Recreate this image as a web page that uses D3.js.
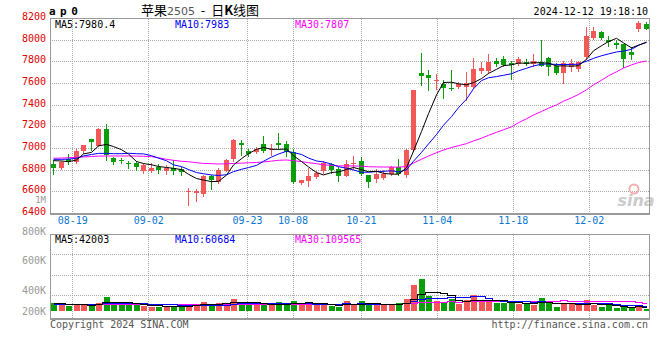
<!DOCTYPE html>
<html><head><meta charset="utf-8">
<script src="https://cdn.jsdelivr.net/npm/d3@7"></script>
<style>body{margin:0;background:#fff}svg{display:block}</style>
</head><body><svg id="c" width="660" height="360"></svg>
<script>
// ---------- DATA ----------
const openP = [6857,6823,6900,6878,6979,7087,7025,7179,6915,6891,6866,6869,6796,6796,6833,6787,6823,6811,6600,6594,6588,6750,6689,6796,6900,7053,6981,6965,7041,6990,7047,7041,6970,6686,6701,6735,6787,6854,6809,6747,6860,6885,6756,6720,6729,6765,6827,6756,6981,7699,7675,7620,7592,7562,7567,7567,7567,7711,7711,7812,7828,7788,7782,7803,7782,7803,7834,7760,7696,7751,7730,7849,8027,8079,8002,7972,7966,7889,8103,8150];
const highP = [6894,6885,6949,6992,7035,7090,7185,7225,6918,6909,6888,6885,6864,6869,6854,6848,6894,6833,6634,6625,6756,6756,6818,6900,7087,7078,6996,7011,7114,7041,7139,7068,6992,6712,6818,6790,6888,6869,6833,6894,6931,6924,6760,6809,6800,6835,6903,6996,7540,7879,7721,7690,7629,7727,7610,7705,7837,7797,7868,7837,7852,7812,7840,7828,7868,8003,7840,7790,7812,7828,7810,8118,8125,8085,8036,8000,7966,7935,8180,8165];
const lowP = [6763,6815,6854,6870,6956,6986,7020,6894,6854,6864,6818,6802,6775,6781,6772,6766,6766,6756,6481,6511,6557,6628,6680,6790,6888,6940,6931,6958,6970,6940,6996,6931,6680,6673,6655,6730,6772,6772,6704,6745,6809,6760,6649,6695,6720,6760,6760,6741,6975,7583,7537,7553,7470,7537,7560,7445,7560,7696,7700,7760,7760,7644,7770,7770,7760,7760,7675,7690,7604,7714,7720,7828,8010,8010,7950,7930,7751,7828,8082,8100];
const closeP = [6818,6878,6869,6979,7032,7062,7179,6940,6878,6885,6862,6833,6848,6823,6802,6818,6796,6787,6605,6609,6750,6717,6802,6894,7078,7038,6955,6995,6981,6998,7032,6970,6689,6710,6747,6772,6864,6796,6741,6857,6866,6765,6695,6765,6765,6827,6765,6986,7537,7668,7650,7630,7558,7556,7592,7604,7730,7742,7797,7782,7773,7767,7828,7782,7812,7767,7751,7696,7791,7791,7797,8042,8088,8027,7980,7950,7828,7858,8155,8103];
const ma5 = [6888,6885,6878,6894,6950,6964,7024,7038,7018,6989,6949,6880,6861,6850,6834,6825,6817,6805,6762,6723,6709,6694,6697,6754,6848,6906,6953,6992,7009,6993,6992,6995,6934,6880,6830,6778,6756,6778,6784,6806,6825,6805,6785,6790,6771,6763,6763,6822,6976,7157,7321,7494,7609,7612,7597,7588,7608,7645,7693,7731,7765,7772,7789,7786,7792,7791,7788,7762,7763,7759,7765,7823,7902,7949,7987,8017,7975,7929,7954,7979];
const ma10 = [6900,6900,6902,6910,6931,6945,6955,6955,6952,6952,6956,6952,6950,6934,6911,6887,6849,6833,6806,6778,6767,6756,6751,6758,6786,6808,6824,6844,6882,6921,6949,6974,6963,6945,6912,6885,6876,6856,6832,6818,6801,6781,6781,6787,6789,6794,6784,6803,6883,6964,7042,7129,7215,7294,7377,7455,7551,7627,7653,7664,7676,7690,7717,7740,7762,7778,7780,7776,7775,7776,7778,7806,7832,7856,7873,7891,7899,7915,7952,7983];
const ma30 = [6910,6912,6915,6918,6922,6926,6930,6931,6931,6931,6931,6930,6928,6925,6915,6900,6891,6882,6878,6869,6862,6860,6857,6859,6862,6865,6868,6871,6876,6884,6891,6894,6888,6879,6869,6860,6849,6844,6840,6839,6839,6837,6832,6830,6829,6829,6828,6834,6866,6901,6931,6961,6986,7009,7026,7045,7070,7095,7122,7149,7173,7200,7238,7274,7309,7342,7372,7402,7437,7468,7499,7542,7588,7630,7671,7708,7743,7772,7793,7808];
const volume = [130,99,78,99,99,88,130,213,104,104,104,88,78,62,62,62,78,88,88,88,140,73,125,125,187,135,88,88,88,88,140,125,151,88,120,88,104,78,62,151,104,151,88,88,88,88,120,182,400,494,229,151,125,182,114,166,244,151,151,125,125,125,104,125,88,203,125,62,125,104,88,166,88,62,88,47,62,47,73,36].map(v => v * 1000);
const volMa5 = [115,110,100,100,101,93,99,126,127,128,131,123,96,87,79,70,68,70,76,81,96,95,103,110,130,129,132,125,117,97,98,106,118,118,125,114,110,96,90,97,100,109,111,116,104,101,94,113,176,257,285,291,280,236,160,148,166,171,165,167,159,135,126,121,113,129,129,121,121,124,101,109,114,102,98,90,69,61,63,53].map(v => v * 1000);
const volMa10 = [105,105,104,104,104,103,105,110,112,114,112,111,111,107,103,101,96,83,81,80,83,82,87,93,105,113,114,114,114,114,114,119,122,118,111,106,108,107,104,111,107,110,103,103,100,100,102,112,146,180,193,193,197,206,209,216,229,226,201,164,153,151,149,143,140,144,132,123,121,119,115,119,117,111,111,96,89,88,82,76].map(v => v * 1000);
const volMa30 = [96,95,96,97,96,97,98,97,98,98,99,99,98,99,100,100,99,100,101,100,101,101,102,101,102,103,102,103,103,103,103,104,106,106,107,107,106,101,100,101,101,104,104,105,106,106,108,111,121,135,138,140,140,142,140,141,146,148,150,152,151,151,150,151,150,154,154,154,156,154,154,154,154,153,153,152,150,146,135,119].map(v => v * 1000);
const dateLabels = ["08-19","09-02","09-23","10-08","10-21","11-04","11-18","12-02"];
const dateIndex = [3,13,26,32,41,51,61,71];
const priceTicks = [6400,6600,6800,7000,7200,7400,7600,7800,8000,8200];
const volTickLabels = ["800K","600K","400K","200K"];
const volTickValues = [800000,600000,400000,200000];
const legendPrice = [{t:"MA5:7980.4",c:"#000000"},{t:"MA10:7983",c:"#0000ff"},{t:"MA30:7807",c:"#ff00ff"}];
const legendVol = [{t:"MA5:42003",c:"#000000"},{t:"MA10:60684",c:"#0000ff"},{t:"MA30:109565",c:"#ff00ff"}];

// ---------- LAYOUT ----------
const N = closeP.length;
const L = 50, R = 650;
const pTop = 18.5, pBot = 213.5;
const vTop = 234.5, vBot = 318.5, vBase = 311;
const RED = "#f35858", GREEN = "#0a9f0a";
const MONO = "'DejaVu Sans Mono', monospace";

const svg = d3.select("#c");
const xBand = d3.scaleBand().domain(d3.range(N)).range([L, R]).paddingInner(0.34).paddingOuter(0.17);
const xGrid = d3.scaleLinear().domain([0, N - 1]).range([L, R]);
const cx = i => Math.round(xBand(i)) + 2.5;
const bw = Math.round(xBand.bandwidth());
const yP = d3.scaleLinear().domain([6400, 8200]).range([pBot, pTop]);
const yV = d3.scaleLinear().domain([0, 1200000]).range([vBase, vTop - 0.5]);
const yVGrid = d3.scaleLinear().domain([0, 4]).range([vBot - 2.5, vTop]);
const yVLabel = d3.scaleLinear().domain([200000, 400000, 600000, 800000]).range([311, 290, 260.5, 231]);
const crisp = v => Math.round(v - 0.5) + 0.5;

// clip paths
const defs = svg.append("defs");
defs.append("clipPath").attr("id", "pclip").append("rect").attr("x", L).attr("y", pTop).attr("width", R - L).attr("height", pBot - pTop);
defs.append("clipPath").attr("id", "vclip").append("rect").attr("x", L).attr("y", vTop).attr("width", R - L).attr("height", vBot - vTop);

// ---------- GRID ----------
const grid = svg.append("g").attr("stroke", "#a8a8a8").attr("stroke-dasharray", "1,1").attr("shape-rendering", "crispEdges");
grid.selectAll(".hp").data(priceTicks.filter(t => t > 6400 && t < 8200)).join("line")
  .attr("x1", L).attr("x2", R).attr("y1", d => crisp(yP(d))).attr("y2", d => crisp(yP(d)));
grid.selectAll(".vp").data(dateIndex).join("line")
  .attr("x1", d => crisp(xGrid(d))).attr("x2", d => crisp(xGrid(d))).attr("y1", pTop).attr("y2", pBot);
grid.selectAll(".hv").data([1, 2, 3]).join("line").attr("class", "hv")
  .attr("x1", L).attr("x2", R).attr("y1", d => crisp(yVGrid(d))).attr("y2", d => crisp(yVGrid(d)));
grid.selectAll(".vv").data(dateIndex).join("line").attr("class", "vv")
  .attr("x1", d => crisp(xGrid(d))).attr("x2", d => crisp(xGrid(d))).attr("y1", vTop).attr("y2", vBot);

// ---------- WATERMARK ----------
const wm = svg.append("g");
wm.append("circle").attr("cx", 634).attr("cy", 189).attr("r", 4.5).attr("fill", "none").attr("stroke", "#f4b0b0").attr("stroke-width", 2);
wm.append("text").attr("x", 636).attr("y", 206).attr("text-anchor", "middle")
  .attr("font-family", "'DejaVu Sans', sans-serif").attr("font-size", 16).attr("font-weight", "bold").attr("font-style", "italic")
  .attr("fill", "#cbcbcb").text("sina");

// ---------- CANDLES ----------
const cg = svg.append("g").attr("clip-path", "url(#pclip)").attr("shape-rendering", "crispEdges");
const idx = d3.range(N);
const col = i => closeP[i] >= openP[i] ? RED : GREEN;
cg.selectAll(".wick").data(idx).join("line")
  .attr("x1", i => cx(i)).attr("x2", i => cx(i))
  .attr("y1", i => Math.round(yP(highP[i]))).attr("y2", i => Math.round(yP(lowP[i])) + 1)
  .attr("stroke", col).attr("stroke-width", 1);
cg.selectAll(".body").data(idx).join("rect")
  .attr("x", i => Math.round(xBand(i)))
  .attr("y", i => Math.round(yP(Math.max(openP[i], closeP[i]))))
  .attr("width", bw)
  .attr("height", i => Math.max(1, Math.round(Math.abs(yP(openP[i]) - yP(closeP[i])))))
  .attr("fill", col);

// MA lines price
const lineP = d3.line().x((d, i) => cx(i)).y(d => yP(d));
const mg = svg.append("g").attr("clip-path", "url(#pclip)").attr("fill", "none").attr("stroke-width", 1);
mg.append("path").attr("d", lineP(ma30)).attr("stroke", "#ff00ff");
mg.append("path").attr("d", lineP(ma10)).attr("stroke", "#0000ff");
mg.append("path").attr("d", lineP(ma5)).attr("stroke", "#000000");

// ---------- VOLUME ----------
const vg = svg.append("g").attr("clip-path", "url(#vclip)").attr("shape-rendering", "crispEdges");
vg.selectAll("rect").data(idx).join("rect")
  .attr("x", i => Math.round(xBand(i)))
  .attr("y", i => Math.round(yV(volume[i])))
  .attr("width", bw + 1)
  .attr("height", i => Math.max(1, Math.round(vBase - yV(volume[i]))))
  .attr("fill", col);
const lineV = d3.line().x((d, i) => cx(i)).y(d => crisp(yV(d))).curve(d3.curveStep);
const vmg = svg.append("g").attr("clip-path", "url(#vclip)").attr("fill", "none").attr("stroke-width", 1).attr("shape-rendering", "crispEdges");
vmg.append("path").attr("d", lineV(volMa30)).attr("stroke", "#ff00ff");
vmg.append("path").attr("d", lineV(volMa10)).attr("stroke", "#0000ff");
vmg.append("path").attr("d", lineV(volMa5)).attr("stroke", "#000000");

// ---------- FRAMES ----------
const fr = svg.append("g").attr("fill", "none").attr("stroke", "#9a9a9a").attr("shape-rendering", "crispEdges");
fr.append("rect").attr("x", L + 0.5).attr("y", pTop).attr("width", R - L - 1).attr("height", pBot - pTop);
fr.append("line").attr("x1", L).attr("x2", R).attr("y1", pBot + 1).attr("y2", pBot + 1);
fr.append("rect").attr("x", L + 0.5).attr("y", vTop).attr("width", R - L - 1).attr("height", vBot - vTop);
fr.append("line").attr("x1", L).attr("x2", R).attr("y1", vBot + 1).attr("y2", vBot + 1);

// ---------- TEXT ----------
const txt = svg.append("g").attr("font-family", MONO).attr("font-size", 10);
txt.selectAll(".pl").data(priceTicks).join("text")
  .attr("x", 46).attr("y", d => yP(d) - 2).attr("dy", "0.35em").attr("text-anchor", "end")
  .attr("fill", "#e00000").text(d => d);
txt.append("text").attr("x", 46).attr("y", yP(6525)).attr("dy", "0.35em").attr("text-anchor", "end")
  .attr("font-size", 9).attr("fill", "#9a9a9a").text("1M");
txt.selectAll(".dl").data(dateIndex).join("text")
  .attr("x", d => xGrid(d)).attr("y", 220.5).attr("dy", "0.35em").attr("text-anchor", "middle")
  .attr("fill", "#0a78d2").text((d, k) => dateLabels[k]);
txt.selectAll(".vl").data(volTickValues).join("text")
  .attr("x", 46).attr("y", d => yVLabel(d)).attr("dy", "0.35em").attr("text-anchor", "end")
  .attr("fill", "#9a9a9a").text((d, k) => volTickLabels[k]);
txt.selectAll(".lp").data(legendPrice).join("text")
  .attr("x", (d, k) => 55 + k * 120).attr("y", 27.5).attr("fill", d => d.c).text(d => d.t);
txt.selectAll(".lv").data(legendVol).join("text")
  .attr("x", (d, k) => 55 + k * 120).attr("y", 242.5).attr("fill", d => d.c).text(d => d.t);
txt.append("text").attr("x", 50).attr("y", 328).attr("fill", "#555").text("Copyright 2024 SINA.COM");
txt.append("text").attr("x", 648).attr("y", 328).attr("text-anchor", "end").attr("fill", "#555").text("http://finance.sina.com.cn");
txt.append("text").attr("x", 648).attr("y", 15).attr("text-anchor", "end").attr("fill", "#000").text("2024-12-12 19:18:10");

svg.append("text").attr("x", 49).attr("y", 15).attr("font-family", MONO).attr("font-size", 11).attr("font-weight", "bold")
  .attr("letter-spacing", 4.5).attr("fill", "#000").text("ap0");
const title = svg.append("text").attr("x", 141).attr("y", 15).attr("font-family", "'Noto Sans CJK SC', sans-serif")
  .attr("font-size", 13).attr("fill", "#000").style("white-space", "pre");
title.append("tspan").text("苹果");
title.append("tspan").attr("font-family", "'DejaVu Sans', sans-serif").attr("font-size", 11).attr("fill", "#555").text("2505");
title.append("tspan").text("  -  日");
title.append("tspan").attr("font-weight", "bold").text("K");
title.append("tspan").text("线图");
</script>
</body></html>
